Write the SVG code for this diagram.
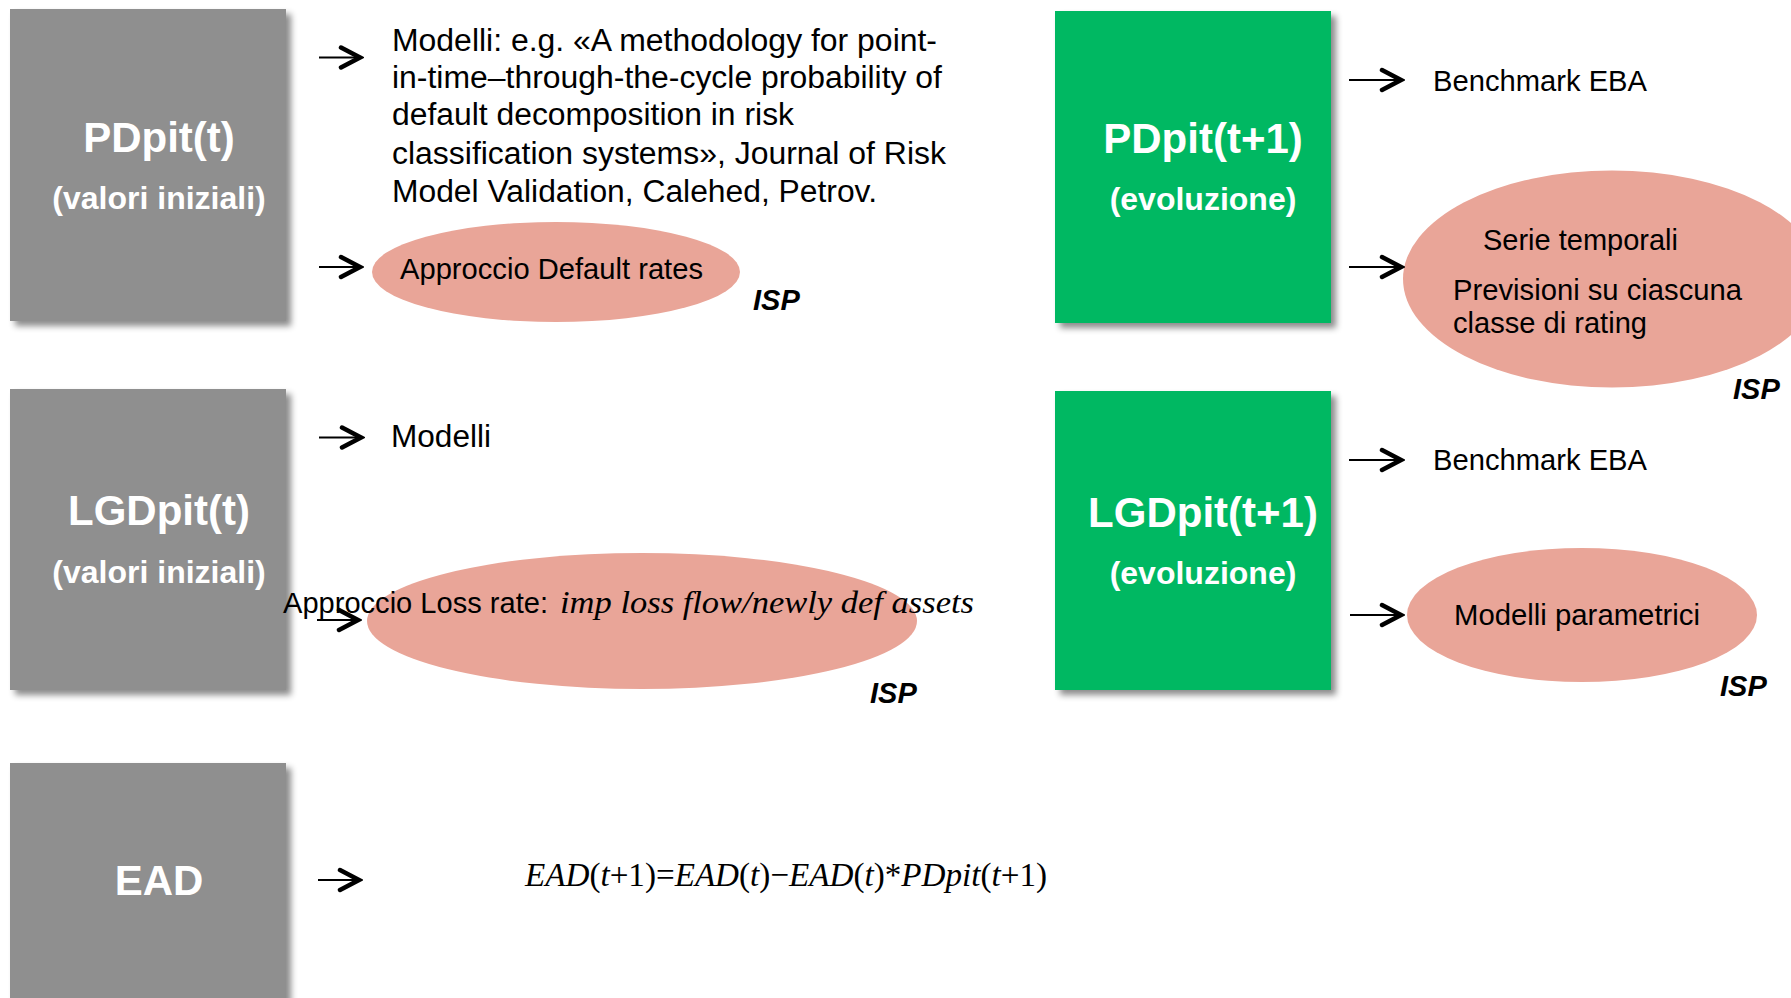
<svg xmlns="http://www.w3.org/2000/svg" width="1791" height="998" viewBox="0 0 1791 998">
<style>
.box-grey{fill:#8f8f8f}
.box-green{fill:#00b862}
.oval{fill:#e9a598}
.t-box{font-family:"Liberation Sans",Arial,sans-serif;font-weight:bold;fill:#ffffff;text-anchor:middle}
.t-big{font-size:42px}
.t-sub{font-size:32px}
.t{font-family:"Liberation Sans",Arial,sans-serif;fill:#000000}
.isp{font-family:"Liberation Sans",Arial,sans-serif;font-weight:bold;font-style:italic;font-size:29px;fill:#000000}
.math{font-family:"Liberation Serif","Times New Roman",serif;fill:#000000}
.conn{stroke:#000000;stroke-width:2;fill:none}
</style>
<defs>
<filter id="shadow" x="-10%" y="-10%" width="125%" height="125%">
<feDropShadow dx="5" dy="5" stdDeviation="3" flood-color="#000000" flood-opacity="0.45"/>
</filter>
<marker id="head" markerUnits="userSpaceOnUse" viewBox="0 0 26 26" markerWidth="26" markerHeight="26" refX="22" refY="13" orient="auto">
<path d="M3,3 L22,13 L3,23" fill="none" stroke="#000000" stroke-width="4.5" stroke-linecap="round" stroke-linejoin="miter"/>
</marker>
</defs>
<rect width="1791" height="998" fill="#ffffff"/>

<g id="node-pdpit-t">
<rect class="box-grey" x="10" y="9" width="276" height="312" filter="url(#shadow)"/>
<text class="t-box t-big" x="159" y="152">PDpit(t)</text>
<text class="t-box t-sub" x="159" y="209">(valori iniziali)</text>
</g>

<g id="node-modelli-pd">
<text class="t" font-size="31" x="392" y="50.5" textLength="545" lengthAdjust="spacingAndGlyphs">Modelli: e.g. «A methodology for point-</text>
<text class="t" font-size="31" x="392" y="87.5" textLength="550" lengthAdjust="spacingAndGlyphs">in-time–through-the-cycle probability of</text>
<text class="t" font-size="31" x="392" y="124.5" textLength="402" lengthAdjust="spacingAndGlyphs">default decomposition in risk</text>
<text class="t" font-size="31" x="392" y="163.5" textLength="554" lengthAdjust="spacingAndGlyphs">classification systems», Journal of Risk</text>
<text class="t" font-size="31" x="392" y="201.5" textLength="485" lengthAdjust="spacingAndGlyphs">Model Validation, Calehed, Petrov.</text>
</g>

<g id="node-default-rates">
<ellipse class="oval" cx="556" cy="272" rx="184" ry="50"/>
<text class="t" font-size="29" x="400" y="279" textLength="303" lengthAdjust="spacingAndGlyphs">Approccio Default rates</text>
<text class="isp" x="753" y="310">ISP</text>
</g>

<g id="node-lgdpit-t">
<rect class="box-grey" x="10" y="389" width="276" height="301" filter="url(#shadow)"/>
<text class="t-box t-big" x="159" y="525">LGDpit(t)</text>
<text class="t-box t-sub" x="159" y="583">(valori iniziali)</text>
</g>

<g id="node-modelli-lgd">
<text class="t" font-size="31" x="391" y="447" textLength="100" lengthAdjust="spacingAndGlyphs">Modelli</text>
</g>

<g id="node-loss-rate">
<ellipse class="oval" cx="642" cy="621" rx="275" ry="68"/>
<text class="t" font-size="29" x="283" y="613" textLength="265" lengthAdjust="spacingAndGlyphs">Approccio Loss rate:</text>
<text class="math" font-style="italic" font-size="31" x="560" y="613" textLength="414" lengthAdjust="spacingAndGlyphs">imp loss flow/newly def assets</text>
<text class="isp" x="870" y="703">ISP</text>
</g>

<g id="node-ead">
<rect class="box-grey" x="10" y="763" width="276" height="240" filter="url(#shadow)"/>
<text class="t-box t-big" x="159" y="895">EAD</text>
</g>

<g id="node-ead-formula">
<text class="math" font-size="34" x="525" y="886" textLength="522" lengthAdjust="spacingAndGlyphs"><tspan font-style="italic">EAD</tspan>(<tspan font-style="italic">t</tspan>+1)=<tspan font-style="italic">EAD</tspan>(<tspan font-style="italic">t</tspan>)−<tspan font-style="italic">EAD</tspan>(<tspan font-style="italic">t</tspan>)*<tspan font-style="italic">PDpit</tspan>(<tspan font-style="italic">t</tspan>+1)</text>
</g>

<g id="node-pdpit-t1">
<rect class="box-green" x="1055" y="11" width="276" height="312" filter="url(#shadow)"/>
<text class="t-box t-big" x="1203" y="153">PDpit(t+1)</text>
<text class="t-box t-sub" x="1203" y="210">(evoluzione)</text>
</g>

<g id="node-benchmark-pd">
<text class="t" font-size="29" x="1433" y="90.5" textLength="214" lengthAdjust="spacingAndGlyphs">Benchmark EBA</text>
</g>

<g id="node-serie">
<ellipse class="oval" cx="1612" cy="279" rx="209" ry="108.5"/>
<text class="t" font-size="29" x="1483" y="250" textLength="195" lengthAdjust="spacingAndGlyphs">Serie temporali</text>
<text class="t" font-size="29" x="1453" y="300" textLength="289" lengthAdjust="spacingAndGlyphs">Previsioni su ciascuna</text>
<text class="t" font-size="29" x="1453" y="333" textLength="194" lengthAdjust="spacingAndGlyphs">classe di rating</text>
<text class="isp" x="1733" y="399">ISP</text>
</g>

<g id="node-lgdpit-t1">
<rect class="box-green" x="1055" y="391" width="276" height="299" filter="url(#shadow)"/>
<text class="t-box t-big" x="1203" y="527">LGDpit(t+1)</text>
<text class="t-box t-sub" x="1203" y="584">(evoluzione)</text>
</g>

<g id="node-benchmark-lgd">
<text class="t" font-size="29" x="1433" y="470" textLength="214" lengthAdjust="spacingAndGlyphs">Benchmark EBA</text>
</g>

<g id="node-parametrici">
<ellipse class="oval" cx="1582" cy="615" rx="175" ry="67"/>
<text class="t" font-size="29" x="1454" y="625" textLength="246" lengthAdjust="spacingAndGlyphs">Modelli parametrici</text>
<text class="isp" x="1720" y="696">ISP</text>
</g>

<g id="connectors">
<path class="conn" d="M319,57.5 L360,57.5" marker-end="url(#head)"/>
<path class="conn" d="M319,267 L360,267" marker-end="url(#head)"/>
<path class="conn" d="M319,437.5 L361,437.5" marker-end="url(#head)"/>
<path class="conn" d="M317,620 L358,620" marker-end="url(#head)"/>
<path class="conn" d="M318,880 L359,880" marker-end="url(#head)"/>
<path class="conn" d="M1349,80 L1401,80" marker-end="url(#head)"/>
<path class="conn" d="M1349,267 L1401,267" marker-end="url(#head)"/>
<path class="conn" d="M1349,460 L1401,460" marker-end="url(#head)"/>
<path class="conn" d="M1350,615 L1401,615" marker-end="url(#head)"/>
</g>
</svg>
